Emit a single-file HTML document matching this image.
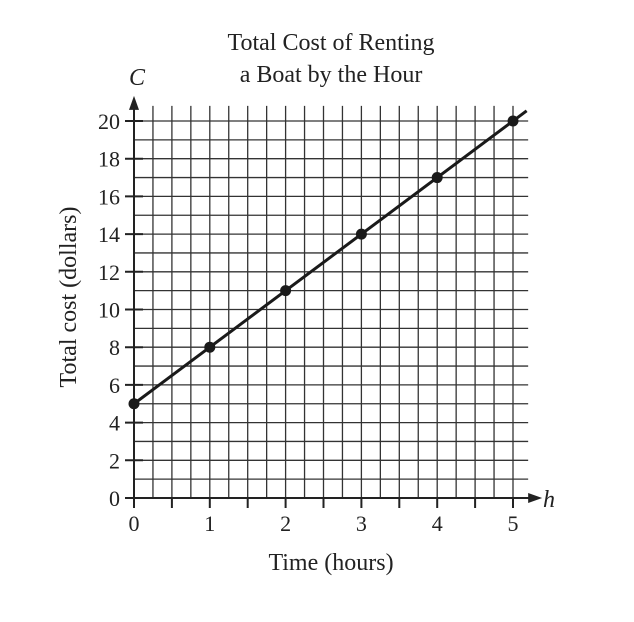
<!DOCTYPE html>
<html><head><meta charset="utf-8"><style>
html,body{margin:0;padding:0;background:#fff;}
svg text{font-family:"Liberation Serif",serif;fill:#222;}
</style></head><body>
<svg width="634" height="617" viewBox="0 0 634 617">
<g id="grid"></g>
<g id="axes"></g>
<g id="marks"></g>
<text x="331" y="50" font-size="24" text-anchor="middle">Total Cost of Renting</text>
<text x="331" y="82" font-size="24" text-anchor="middle">a Boat by the Hour</text>
<text x="137" y="85" font-size="24" font-style="italic" text-anchor="middle">C</text>
<text x="549" y="507" font-size="24" font-style="italic" text-anchor="middle">h</text>
<text x="331" y="570" font-size="24" text-anchor="middle">Time (hours)</text>
<text transform="translate(76,297) rotate(-90)" font-size="24" text-anchor="middle">Total cost (dollars)</text>
</svg>
<script>
const hours = [0, 1, 2, 3, 4, 5];
const costs = [5, 8, 11, 14, 17, 20];
const xTicks = [0, 1, 2, 3, 4, 5];
const yTicks = [0, 2, 4, 6, 8, 10, 12, 14, 16, 18, 20];
const NS = "http://www.w3.org/2000/svg";
const sx = h => 134 + h * 75.8;
const sy = c => 498 - c * 18.85;
function mk(tag, attrs, parent) {
  const e = document.createElementNS(NS, tag);
  for (const k in attrs) e.setAttribute(k, attrs[k]);
  parent.appendChild(e);
  return e;
}
const grid = document.getElementById('grid');
const axes = document.getElementById('axes');
const marks = document.getElementById('marks');
const xMax = 5.2, yMax = 20.8;
for (let i = 1; i * 0.25 <= xMax; i++) {
  const l = mk('line', {x1: sx(i*0.25), x2: sx(i*0.25), y1: sy(0), y2: sy(yMax), stroke: '#333', 'stroke-width': 1.3}, grid);
  
  
}
for (let j = 1; j <= 20; j++) {
  const l = mk('line', {x1: sx(0), x2: sx(xMax), y1: sy(j), y2: sy(j), stroke: '#333', 'stroke-width': 1.3}, grid);
  
  
}
let a = mk('line', {x1: sx(0), x2: sx(xMax) + 4, y1: sy(0), y2: sy(0), stroke: '#222', 'stroke-width': 2}, axes);


a = mk('polygon', {points: `${sx(xMax)+14},${sy(0)} ${sx(xMax)},${sy(0)-5} ${sx(xMax)},${sy(0)+5}`, fill: '#222'}, axes);


a = mk('line', {x1: sx(0), x2: sx(0), y1: sy(0), y2: sy(yMax), stroke: '#222', 'stroke-width': 2}, axes);


a = mk('polygon', {points: `${sx(0)},${sy(yMax)-10} ${sx(0)-5},${sy(yMax)+4} ${sx(0)+5},${sy(yMax)+4}`, fill: '#222'}, axes);


for (let i = 0; i <= 10; i++) {
  const t = mk('line', {x1: sx(i*0.5), x2: sx(i*0.5), y1: sy(0), y2: sy(0) + 10, stroke: '#222', 'stroke-width': 2}, axes);
  
  
}
xTicks.forEach(v => {
  const t = mk('text', {x: sx(v), y: sy(0) + 33, 'font-size': 22, 'text-anchor': 'middle'}, axes);
  t.textContent = v;
  
  
});
yTicks.forEach(v => {
  const t = mk('line', {x1: sx(0) - 9, x2: sx(0) + 9, y1: sy(v), y2: sy(v), stroke: '#222', 'stroke-width': 2}, axes);
  
  
  const tx = mk('text', {x: sx(0) - 14, y: sy(v) + 8, 'font-size': 22, 'text-anchor': 'end'}, axes);
  tx.textContent = v;
  
  
});
const n = hours.length;
const slope = (costs[n-1] - costs[0]) / (hours[n-1] - hours[0]);
const ext = 0.18;
const ln = mk('line', {x1: sx(hours[0]), y1: sy(costs[0]), x2: sx(hours[n-1] + ext), y2: sy(costs[n-1] + slope * ext), stroke: '#1a1a1a', 'stroke-width': 3}, marks);


hours.forEach((h, i) => {
  const c = mk('circle', {cx: sx(h), cy: sy(costs[i]), r: 5.5, fill: '#1a1a1a'}, marks);
  
  
});
</script>
</body></html>
